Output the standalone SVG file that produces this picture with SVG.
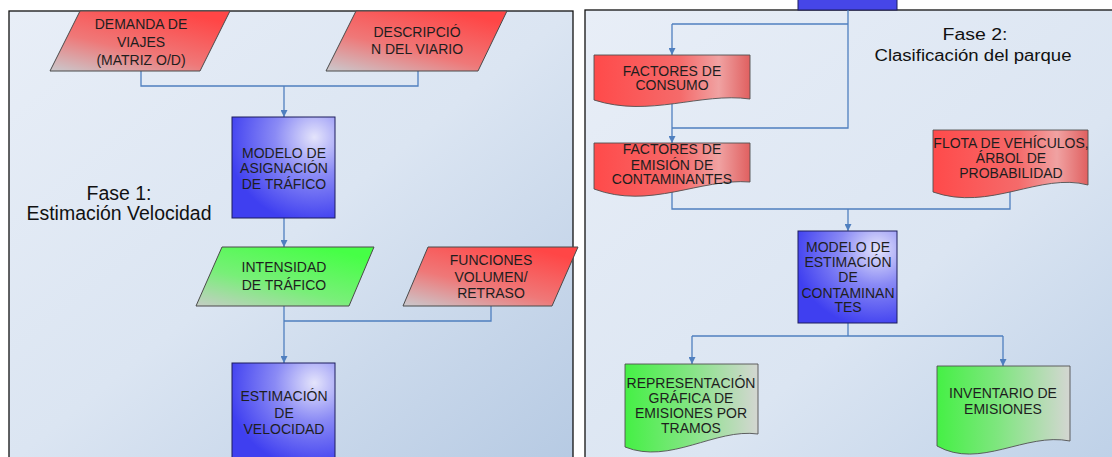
<svg xmlns="http://www.w3.org/2000/svg" width="1112" height="457" viewBox="0 0 1112 457">
<style>
.t{font-family:"Liberation Sans",Arial,sans-serif;font-size:14px;fill:#1e1e1e;text-anchor:middle}
.ph{font-family:"Liberation Sans",Arial,sans-serif;fill:#111;text-anchor:middle}
.ln{fill:none;stroke:#4f7fbf;stroke-width:1.3}
.ar{fill:none;stroke:#4f7fbf;stroke-width:1.3;marker-end:url(#ah)}
.pr{stroke:#4a4a4a;stroke-width:1}
.bx{stroke:#1c1c5c;stroke-width:1}
.dc{stroke:#505050;stroke-width:0.9}
</style>
<defs>
<marker id="ah" viewBox="0 0 8 8" refX="8" refY="4" markerWidth="7" markerHeight="7" markerUnits="userSpaceOnUse" orient="auto">
<path d="M0,0 L8,4 L0,8 z" fill="#4f7fbf"/>
</marker>
<linearGradient id="bgL" x1="0" y1="0" x2="1" y2="1">
<stop offset="0" stop-color="#e8eef7"/><stop offset="0.5" stop-color="#dbe5f2"/><stop offset="1" stop-color="#b6cae3"/>
</linearGradient>
<linearGradient id="bgR" x1="0" y1="0" x2="1" y2="1">
<stop offset="0" stop-color="#e8eef7"/><stop offset="0.6" stop-color="#dbe5f2"/><stop offset="1" stop-color="#bdd0e7"/>
</linearGradient>
<linearGradient id="redP" x1="0" y1="1" x2="0.7" y2="0">
<stop offset="0" stop-color="#c9c9cd"/><stop offset="0.45" stop-color="#ef7878"/><stop offset="1" stop-color="#ff4646"/>
</linearGradient>
<linearGradient id="grnP" x1="0" y1="1" x2="0.7" y2="0">
<stop offset="0" stop-color="#c5cdc5"/><stop offset="0.45" stop-color="#78ef78"/><stop offset="1" stop-color="#46ff46"/>
</linearGradient>
<linearGradient id="redD" x1="0" y1="0" x2="1" y2="0">
<stop offset="0" stop-color="#ff4a4a"/><stop offset="0.55" stop-color="#f56a6a"/><stop offset="0.8" stop-color="#f0a2a2"/><stop offset="1" stop-color="#e06060"/>
</linearGradient>
<linearGradient id="grnD" x1="0" y1="0" x2="1" y2="0">
<stop offset="0" stop-color="#45f045"/><stop offset="0.45" stop-color="#7ee67e"/><stop offset="1" stop-color="#d4d6d2"/>
</linearGradient>
<radialGradient id="blu" cx="0.8" cy="0.2" r="0.85">
<stop offset="0" stop-color="#e4e4fb"/><stop offset="0.45" stop-color="#8a8af5"/><stop offset="1" stop-color="#3f3ff0"/>
</radialGradient>
</defs>

<rect width="1112" height="457" fill="#ffffff"/>
<g id="panel-fase1">
<rect x="9" y="11" width="564" height="452" fill="url(#bgL)" stroke="#111" stroke-width="1.3"/>
</g>
<g id="panel-fase2">
<rect x="585" y="10" width="540" height="455" fill="url(#bgR)" stroke="#111" stroke-width="1.3"/>
<rect x="798" y="-6" width="99" height="16" fill="#4646e8" stroke="#1c1c5c" stroke-width="1"/>
</g>

<g id="connectors">
<polyline class="ln" points="141,71 141,86 418,86 418,71"/>
<line class="ar" x1="284" y1="86" x2="284" y2="117"/>
<line class="ar" x1="284" y1="218" x2="284" y2="247"/>
<line class="ar" x1="284" y1="306" x2="284" y2="363"/>
<polyline class="ln" points="491,306 491,321 284,321"/>
<polyline class="ln" points="848,10 848,128 672,128"/>
<polyline class="ln" points="848,24 672,24"/>
<line class="ar" x1="672" y1="24" x2="672" y2="55"/>
<line class="ar" x1="672" y1="100" x2="672" y2="143"/>
<polyline class="ln" points="672,186 672,209 1010,209 1010,187"/>
<line class="ar" x1="848" y1="209" x2="848" y2="231"/>
<polyline class="ln" points="848,323 848,336"/>
<polyline class="ln" points="692,336 1003,336"/>
<line class="ar" x1="692" y1="336" x2="692" y2="364"/>
<line class="ar" x1="1003" y1="336" x2="1003" y2="366"/>
</g>

<g id="fase1-label">
<text class="ph" x="119" y="200" font-size="20" textLength="65" lengthAdjust="spacingAndGlyphs">Fase 1:</text>
<text class="ph" x="119" y="220" font-size="20" textLength="185" lengthAdjust="spacingAndGlyphs">Estimación Velocidad</text>
</g>
<g id="fase2-label">
<text class="ph" x="975" y="40" font-size="16" textLength="65" lengthAdjust="spacingAndGlyphs">Fase 2:</text>
<text class="ph" x="973" y="61" font-size="16" textLength="197" lengthAdjust="spacingAndGlyphs">Clasificación del parque</text>
</g>

<g id="demanda">
<polygon class="pr" points="80,11 230,11 200,71 50,71" fill="url(#redP)"/>
<text class="t" x="141" y="29">DEMANDA DE</text>
<text class="t" x="141" y="47">VIAJES</text>
<text class="t" x="141" y="65">(MATRIZ O/D)</text>
</g>
<g id="descripcion">
<polygon class="pr" points="356,11 507,11 478,71 326,71" fill="url(#redP)"/>
<text class="t" x="417" y="37">DESCRIPCIÓ</text>
<text class="t" x="417" y="54">N DEL VIARIO</text>
</g>
<g id="modelo-asignacion">
<rect class="bx" x="232" y="117" width="103" height="101" fill="url(#blu)"/>
<text class="t" x="284" y="158">MODELO DE</text>
<text class="t" x="284" y="173">ASIGNACIÓN</text>
<text class="t" x="284" y="189">DE TRÁFICO</text>
</g>
<g id="intensidad">
<polygon class="pr" points="222,247 374,247 349,306 196,306" fill="url(#grnP)"/>
<text class="t" x="284" y="272">INTENSIDAD</text>
<text class="t" x="284" y="290">DE TRÁFICO</text>
</g>
<g id="funciones">
<polygon class="pr" points="428,247 578,247 552,306 403,306" fill="url(#redP)"/>
<text class="t" x="491" y="265">FUNCIONES</text>
<text class="t" x="491" y="282">VOLUMEN/</text>
<text class="t" x="491" y="298">RETRASO</text>
</g>
<g id="estimacion-velocidad">
<rect class="bx" x="232" y="363" width="103" height="100" fill="url(#blu)"/>
<text class="t" x="284" y="401">ESTIMACIÓN</text>
<text class="t" x="284" y="418">DE</text>
<text class="t" x="284" y="434">VELOCIDAD</text>
</g>

<g id="factores-consumo">
<path class="dc" d="M594,55 H750 V99 C700,92 650,118 594,100 Z" fill="url(#redD)"/>
<text class="t" x="672" y="76">FACTORES DE</text>
<text class="t" x="672" y="90">CONSUMO</text>
</g>
<g id="factores-emision">
<path class="dc" d="M594,143 H750 V182 C700,178 650,210 594,189 Z" fill="url(#redD)"/>
<text class="t" x="672" y="154">FACTORES DE</text>
<text class="t" x="672" y="170">EMISIÓN DE</text>
<text class="t" x="672" y="184">CONTAMINANTES</text>
</g>
<g id="flota">
<path class="dc" d="M933,130 H1088 V185 C1040,172 990,212 933,192 Z" fill="url(#redD)"/>
<text class="t" x="1011" y="148">FLOTA DE VEHÍCULOS,</text>
<text class="t" x="1011" y="163">ÁRBOL DE</text>
<text class="t" x="1011" y="178">PROBABILIDAD</text>
</g>
<g id="modelo-estimacion">
<rect class="bx" x="798" y="231" width="99" height="92" fill="url(#blu)"/>
<text class="t" x="848" y="252">MODELO DE</text>
<text class="t" x="848" y="267">ESTIMACIÓN</text>
<text class="t" x="848" y="282">DE</text>
<text class="t" x="848" y="298">CONTAMINAN</text>
<text class="t" x="848" y="312">TES</text>
</g>
<g id="representacion">
<path class="dc" d="M625,364 H758 V434 C715,428 670,465 625,447 Z" fill="url(#grnD)"/>
<text class="t" x="691" y="388">REPRESENTACIÓN</text>
<text class="t" x="691" y="403">GRÁFICA DE</text>
<text class="t" x="691" y="418">EMISIONES POR</text>
<text class="t" x="691" y="433">TRAMOS</text>
</g>
<g id="inventario">
<path class="dc" d="M937,366 H1070 V441 C1025,432 980,470 937,446 Z" fill="url(#grnD)"/>
<text class="t" x="1003" y="398">INVENTARIO DE</text>
<text class="t" x="1003" y="414">EMISIONES</text>
</g>
</svg>
